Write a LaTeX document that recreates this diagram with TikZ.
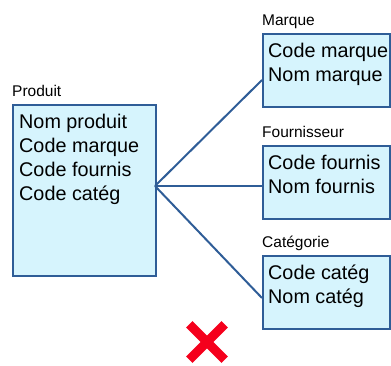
\documentclass[tikz,border=0pt]{standalone}
\usepackage{fontspec}
\setmainfont{Liberation Sans}
\definecolor{boxline}{HTML}{2F5D97}
\definecolor{boxfill}{HTML}{D6F4FD}
\definecolor{xred}{HTML}{F5001C}
\begin{document}
\begin{tikzpicture}[x=1pt,y=-1pt,
  entity/.style={draw=boxline,fill=boxfill,line width=2pt,rectangle,inner sep=0pt,anchor=north west},
  fields/.style={anchor=north west,align=left,font=\fontsize{19.8}{24}\selectfont,inner sep=0pt},
  title/.style={anchor=base west,font=\fontsize{15.5}{18}\selectfont,inner sep=0pt},
  link/.style={draw=boxline,line width=2pt}]
\useasboundingbox (0,0) rectangle (391,365);
% Produit
\node[entity,minimum width=143pt,minimum height=171pt] (prod) at (12,104) {};
\node[title] (prodT) at ([yshift=8pt]prod.north west) {Produit};
\node[fields] (prodF) at ([xshift=7pt,yshift=-10pt]prod.north west) {Nom produit\\Code marque\\Code fournis\\Code catég};
% Marque
\node[entity,minimum width=127pt,minimum height=73pt] (marq) at (262,33) {};
\node[title] (marqT) at ([yshift=8pt]marq.north west) {Marque};
\node[fields] (marqF) at ([xshift=6pt,yshift=-10pt]marq.north west) {Code marque\\Nom marque};
% Fournisseur
\node[entity,minimum width=127pt,minimum height=73pt] (four) at (262,145) {};
\node[title] (fourT) at ([yshift=8pt]four.north west) {Fournisseur};
\node[fields] (fourF) at ([xshift=6pt,yshift=-10pt]four.north west) {Code fournis\\Nom fournis};
% Categorie
\node[entity,minimum width=127pt,minimum height=73pt] (cat) at (262,255) {};
\node[title] (catT) at ([yshift=8pt]cat.north west) {Catégorie};
\node[fields] (catF) at ([xshift=6pt,yshift=-10pt]cat.north west) {Code catég\\Nom catég};
% links
\coordinate (hub) at (155,186);
\coordinate (mIn) at (262,80);
\coordinate (fIn) at (262,186);
\coordinate (cIn) at (262,298);
\draw[link] (hub) -- (mIn);
\draw[link] (hub) -- (fIn);
\draw[link] (hub) -- (cIn);
% red cross
\node[inner sep=0pt,minimum size=35pt] (cross) at (207,342) {};
\draw[xred,line width=9pt] (cross.north west) -- (cross.south east);
\draw[xred,line width=9pt] (cross.north east) -- (cross.south west);
\end{tikzpicture}
\end{document}
